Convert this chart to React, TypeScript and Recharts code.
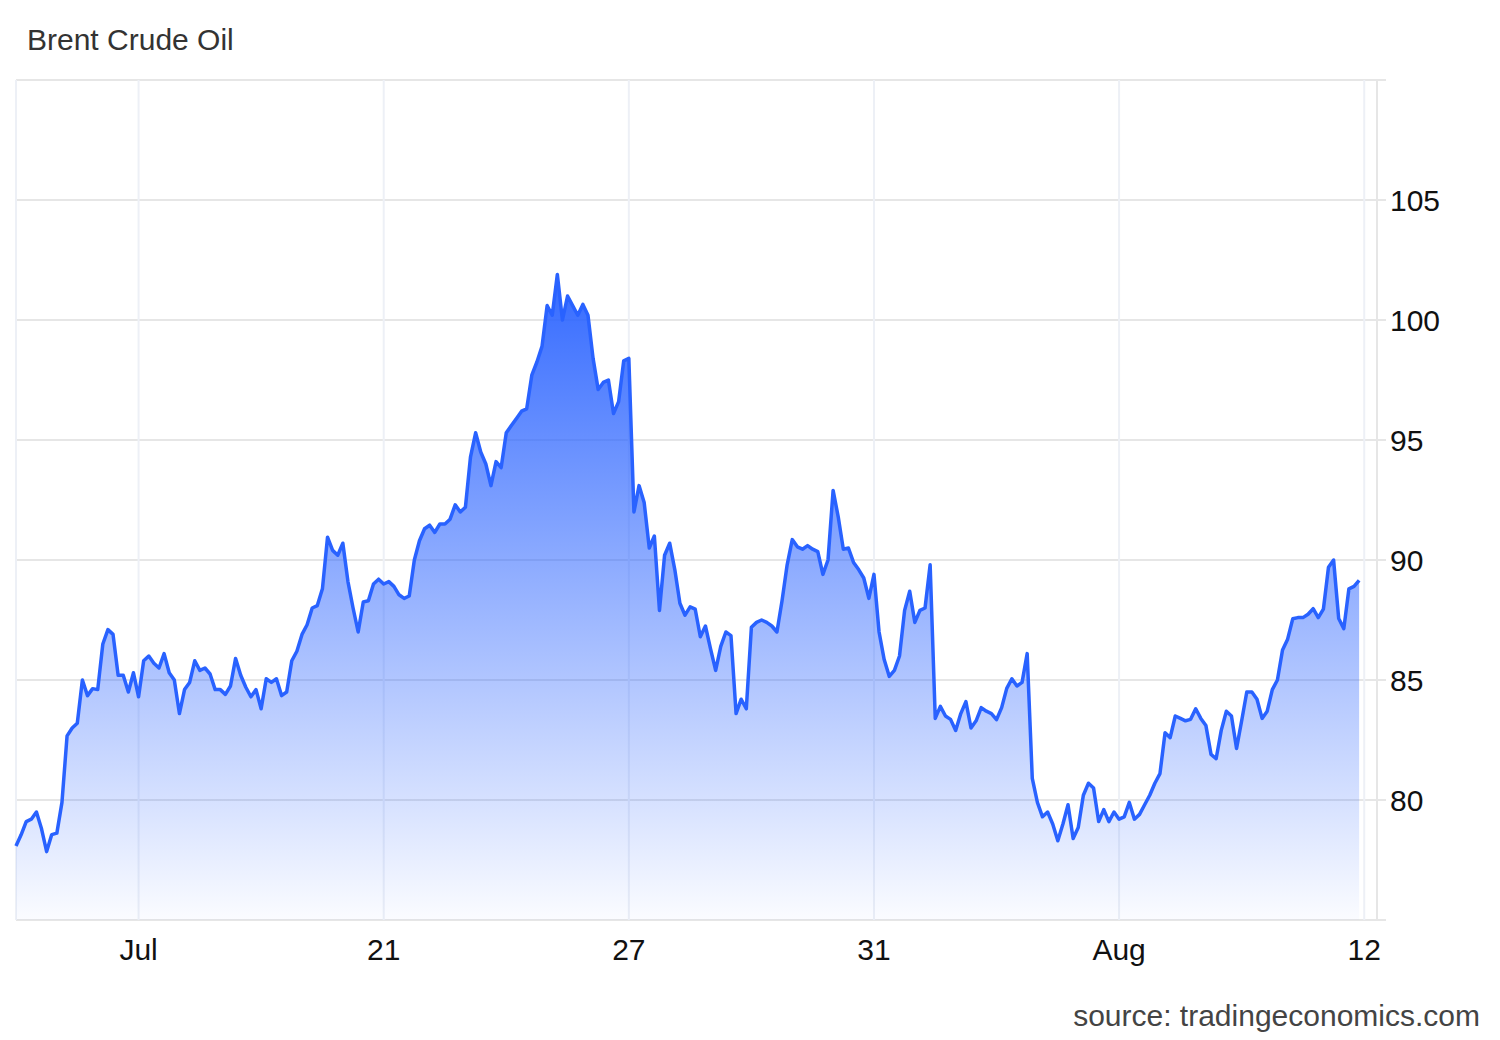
import { AreaChart, Area, XAxis, YAxis, CartesianGrid } from "recharts";

const FONT = "'Liberation Sans', Arial, sans-serif";

// price readings, one every ~5px across the plot
const prices = [
  78.08, 78.55, 79.1, 79.2, 79.5, 78.8, 77.85, 78.56, 78.62, 79.9,
  82.67, 83.0, 83.2, 85.0, 84.35, 84.64, 84.6, 86.5, 87.1, 86.9,
  85.2, 85.2, 84.5, 85.3, 84.3, 85.8, 86.0, 85.7, 85.5, 86.1,
  85.3, 85.0, 83.6, 84.6, 84.9, 85.8, 85.4, 85.5, 85.25, 84.6,
  84.6, 84.4, 84.75, 85.9, 85.2, 84.7, 84.3, 84.6, 83.8, 85.05,
  84.9, 85.05, 84.35, 84.5, 85.8, 86.2, 86.9, 87.3, 88.0, 88.1,
  88.8, 90.95, 90.4, 90.2, 90.7, 89.1, 88.0, 87.0, 88.25, 88.3,
  89.0, 89.2, 89.0, 89.1, 88.9, 88.55, 88.4, 88.5, 90.0, 90.8,
  91.3, 91.45, 91.15, 91.5, 91.5, 91.7, 92.3, 92.0, 92.2, 94.3,
  95.3, 94.5, 94.0, 93.1, 94.1, 93.85, 95.3, 95.6, 95.9, 96.2,
  96.3, 97.7, 98.25, 98.9, 100.6, 100.2, 101.9, 100.0, 101.0, 100.6,
  100.2, 100.65, 100.2, 98.4, 97.1, 97.4, 97.5, 96.1, 96.6, 98.3,
  98.4, 92.0, 93.1, 92.4, 90.5, 91.0, 87.9, 90.2, 90.7, 89.6,
  88.2, 87.7, 88.05, 87.95, 86.8, 87.25, 86.3, 85.4, 86.4, 87.0,
  86.85, 83.6, 84.2, 83.8, 87.2, 87.4, 87.5, 87.4, 87.25, 87.0,
  88.3, 89.8, 90.85, 90.55, 90.45, 90.6, 90.45, 90.35, 89.4, 90.0,
  92.9, 91.8, 90.45, 90.5, 89.9, 89.6, 89.25, 88.4, 89.4, 87.0,
  85.85, 85.15, 85.4, 86.0, 87.9, 88.7, 87.4, 87.9, 88.0, 89.8,
  83.4, 83.9, 83.5, 83.36, 82.9, 83.6, 84.1, 83.0, 83.3, 83.85,
  83.7, 83.6, 83.35, 83.85, 84.65, 85.05, 84.75, 84.9, 86.1, 80.9,
  79.9, 79.3, 79.5, 79.0, 78.3, 79.0, 79.8, 78.4, 78.85, 80.2,
  80.7, 80.5, 79.1, 79.6, 79.1, 79.5, 79.2, 79.3, 79.9, 79.2,
  79.4, 79.8, 80.2, 80.7, 81.1, 82.8, 82.6, 83.5, 83.4, 83.3,
  83.36, 83.8, 83.4, 83.1, 81.9, 81.72, 82.9, 83.7, 83.5, 82.15,
  83.3, 84.5, 84.5, 84.2, 83.4, 83.7, 84.6, 85.0, 86.25, 86.7,
  87.55, 87.6, 87.6, 87.74, 87.97, 87.6, 87.95, 89.7, 90.0, 87.56,
  87.14, 88.8, 88.9, 89.15,
];

const xTickIndex = [24, 72, 120, 168, 216, 264];
const xTickLabels = ["Jul", "21", "27", "31", "Aug", "12"];
const yTicks = [75, 80, 85, 90, 95, 100, 105, 110];
const yLabelled = [80, 85, 90, 95, 100, 105];

const data = prices.map((price, i) => ({ i, price }));

export default function App() {
  return (
    <div style={{ position: "absolute", left: 0, top: 0, width: 1500, height: 1040, background: "#fff", fontFamily: FONT }}>
      <AreaChart width={1500} height={1040} data={data} margin={{ top: 80, right: 43, bottom: 60, left: 16 }}>
        <defs>
          <linearGradient id="brentFill" x1="0" y1="0" x2="0" y2="1">
            <stop offset="0%" stopColor="#2962ff" stopOpacity={0.95} />
            <stop offset="100%" stopColor="#2962ff" stopOpacity={0.02} />
          </linearGradient>
        </defs>
        <CartesianGrid vertical={false} stroke="#e6e6e6" strokeWidth={2} />
        <CartesianGrid horizontal={false} stroke="#edf0f6" strokeWidth={2} />
        <XAxis
          dataKey="i"
          type="number"
          domain={[0, 266.5]}
          ticks={xTickIndex}
          interval={0}
          tickFormatter={(v: number) => xTickLabels[xTickIndex.indexOf(v)] ?? ""}
          axisLine={false}
          tickLine={false}
          tickSize={0}
          tickMargin={19}
          height={60}
          tick={{ fontSize: 30, fill: "#111", fontFamily: FONT }}
        />
        <YAxis
          orientation="right"
          domain={[75, 110]}
          ticks={yTicks}
          interval={0}
          tickFormatter={(v: number) => (yLabelled.includes(v) ? String(v) : "")}
          axisLine={{ stroke: "#e6e6e6", strokeWidth: 2 }}
          tickLine={{ stroke: "#e6e6e6", strokeWidth: 2 }}
          tickSize={9}
          tickMargin={4}
          width={80}
          tick={{ fontSize: 30, fill: "#111", fontFamily: FONT, textAnchor: "start" }}
        />
        <Area
          type="linear"
          dataKey="price"
          stroke="#2962ff"
          strokeWidth={3.5}
          strokeLinejoin="round"
          fill="url(#brentFill)"
          fillOpacity={1}
          dot={false}
          activeDot={false}
          isAnimationActive={false}
        />
      </AreaChart>
      <svg width={1500} height={1040} style={{ position: "absolute", left: 0, top: 0, pointerEvents: "none" }}>
        <text x={27} y={50} fontSize={30} fill="#333" fontFamily={FONT}>Brent Crude Oil</text>
        <text x={1480} y={1026} fontSize={30} fill="#444" fontFamily={FONT} textAnchor="end">source: tradingeconomics.com</text>
      </svg>
    </div>
  );
}
